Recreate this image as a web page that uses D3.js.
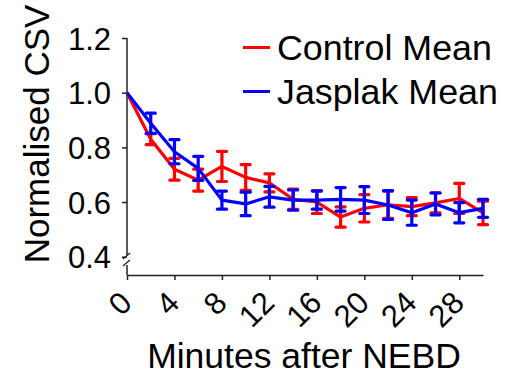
<!DOCTYPE html>
<html>
<head>
<meta charset="utf-8">
<script src="https://cdn.jsdelivr.net/npm/d3@7"></script>
<style>
  html, body { margin: 0; padding: 0; background: #fff; }
  svg { display: block; font-family: "Liberation Sans", Arial, sans-serif; }
</style>
</head>
<body>
<svg id="chart" width="515" height="376"></svg>
<script>
// Normalised CSV over time after NEBD, mean ± error for two conditions
const minutes = [0, 2, 4, 6, 8, 10, 12, 14, 16, 18, 20, 22, 24, 26, 28, 30];
const controlMean = [1.00, 0.83, 0.72, 0.68, 0.73, 0.69, 0.67, 0.61, 0.60, 0.545, 0.577, 0.59, 0.583, 0.597, 0.613, 0.56];
const controlErr  = [0.00, 0.02, 0.04, 0.04, 0.055, 0.047, 0.033, 0.037, 0.042, 0.037, 0.05, 0.05, 0.033, 0.037, 0.055, 0.043];
const jasplakMean = [1.00, 0.888, 0.784, 0.723, 0.607, 0.593, 0.619, 0.607, 0.607, 0.61, 0.607, 0.589, 0.561, 0.593, 0.561, 0.577];
const jasplakErr  = [0.00, 0.037, 0.044, 0.044, 0.033, 0.043, 0.038, 0.037, 0.033, 0.043, 0.049, 0.053, 0.046, 0.04, 0.037, 0.033];
const yTicks = [0.4, 0.6, 0.8, 1.0, 1.2];
const xTicks = [0, 4, 8, 12, 16, 20, 24, 28];
const seriesNames = ["Control Mean", "Jasplak Mean"];
const seriesColors = ["#ff0000", "#0000ff"];

const svg = d3.select("#chart");
const x0 = 127, x1 = 483, xAxisY = 275;
const x = d3.scaleLinear().domain([0, 30]).range([x0, x1]);
const y = d3.scaleLinear().domain([0.4, 1.2]).range([256.7, 38]);

const series = [
  { name: seriesNames[0], color: seriesColors[0], mean: controlMean, err: controlErr },
  { name: seriesNames[1], color: seriesColors[1], mean: jasplakMean, err: jasplakErr }
];

// Y axis (broken near the bottom)
const yAxis = d3.axisLeft(y).tickValues(yTicks).tickFormat(d3.format(".1f")).tickSize(5).tickSizeOuter(0);
const gy = svg.append("g").attr("transform", `translate(${x0},0)`).call(yAxis);
gy.select(".domain").remove();
gy.selectAll(".tick line").attr("stroke", "#222").attr("stroke-width", 1.5);
gy.selectAll(".tick text").attr("font-size", 31).attr("fill", "#000").attr("x", -16).attr("dy", "0.36em");

const axisColor = "#222";
svg.append("line").attr("x1", x0).attr("x2", x0).attr("y1", y(1.2)).attr("y2", 255)
  .attr("stroke", axisColor).attr("stroke-width", 1.5);
svg.append("line").attr("x1", x0).attr("x2", x0).attr("y1", 265).attr("y2", xAxisY)
  .attr("stroke", axisColor).attr("stroke-width", 1.5);
// break marks
[256, 263].forEach(yy => {
  svg.append("line").attr("x1", x0 - 4).attr("y1", yy + 3).attr("x2", x0 + 3).attr("y2", yy - 3)
    .attr("stroke", axisColor).attr("stroke-width", 1.3);
});

// X axis
const xAxis = d3.axisBottom(x).tickValues(xTicks).tickFormat(d3.format("d")).tickSize(5).tickSizeOuter(0);
const gx = svg.append("g").attr("transform", `translate(0,${xAxisY})`).call(xAxis);
gx.select(".domain").attr("stroke", axisColor).attr("stroke-width", 1.5);
gx.selectAll(".tick line").attr("stroke", axisColor).attr("stroke-width", 1.5);
gx.selectAll(".tick text")
  .attr("font-size", 31)
  .attr("fill", "#000")
  .attr("text-anchor", "end")
  .attr("y", null).attr("dy", "0.35em")
  .attr("transform", "translate(-1.5,22) rotate(-45)");

// Axis titles
svg.append("text").attr("x", 304).attr("y", 368).attr("text-anchor", "middle")
  .attr("font-size", 35.5).attr("fill", "#000").text("Minutes after NEBD");
svg.append("text").attr("transform", "translate(48.5,134) rotate(-90)").attr("text-anchor", "middle")
  .attr("font-size", 35).attr("fill", "#000").text("Normalised CSV");

// Series: lines and error bars
const line = d3.line().x((d, i) => x(minutes[i])).y(d => y(d));
const capW = 4.5;
series.forEach(s => {
  const g = svg.append("g");
  g.append("path").datum(s.mean).attr("d", line)
    .attr("fill", "none").attr("stroke", s.color).attr("stroke-width", 3.2).attr("stroke-linejoin", "round");
  const eb = g.selectAll("g.eb").data(s.mean.map((m, i) => ({ t: minutes[i], m, e: s.err[i] })).filter(d => d.e > 0))
    .join("g");
  eb.append("line").attr("x1", d => x(d.t)).attr("x2", d => x(d.t))
    .attr("y1", d => y(d.m - d.e)).attr("y2", d => y(d.m + d.e))
    .attr("stroke", s.color).attr("stroke-width", 3.2);
  [-1, 1].forEach(sign => {
    eb.append("line").attr("x1", d => x(d.t) - capW).attr("x2", d => x(d.t) + capW)
      .attr("y1", d => y(d.m + sign * d.e)).attr("y2", d => y(d.m + sign * d.e))
      .attr("stroke", s.color).attr("stroke-width", 3.2).attr("stroke-linecap", "round");
  });
});

// Legend
const legend = svg.append("g");
series.forEach((s, i) => {
  const ly = 47.5 + i * 44;
  legend.append("line").attr("x1", 243).attr("x2", 270).attr("y1", ly).attr("y2", ly)
    .attr("stroke", s.color).attr("stroke-width", 3);
  legend.append("text").attr("x", 277).attr("y", ly + 12.5).attr("font-size", 35.8)
    .attr("fill", "#000").text(s.name);
});
</script>
</body>
</html>
